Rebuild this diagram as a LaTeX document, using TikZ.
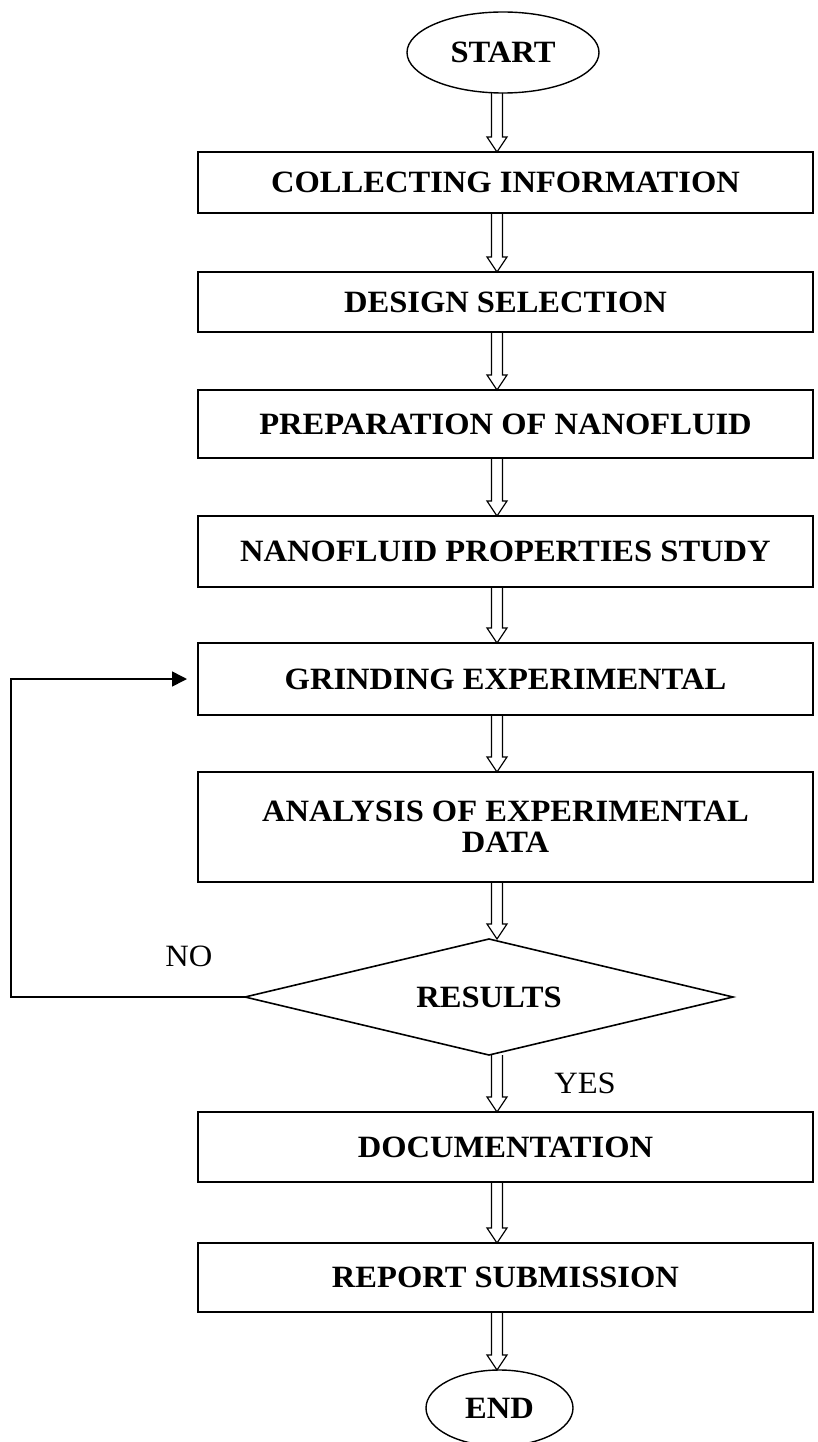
\documentclass[tikz,border=0pt]{standalone}
\usepackage{fontspec}
\setmainfont{Liberation Serif}[FakeStretch=1.05]
\usetikzlibrary{shapes.geometric,arrows.meta,calc}

\begin{document}
\begin{tikzpicture}[
    x=1pt, y=-1pt,
    every node/.style={font=\fontsize{31}{31}\selectfont},
    stepbox/.style={
        draw, line width=1.6pt, minimum width=615pt, inner sep=0pt, outer sep=0pt,
        align=center, font=\fontsize{31}{31}\selectfont\bfseries
      },
    terminal/.style={
        draw, ellipse, line width=1.4pt, inner sep=0pt, outer sep=0pt,
        font=\fontsize{31}{31}\selectfont\bfseries
      },
    decision/.style={
        draw, diamond, shape aspect=4.2, line width=1.6pt, minimum width=488pt,
        minimum height=116pt, inner sep=0pt, outer sep=0pt,
        font=\fontsize{31}{31}\selectfont\bfseries
      },
    hollow/.style={
        line width=1.2pt, line join=miter,
        to path={let \p1=(\tikztostart), \p2=(\tikztotarget) in
            (\x1-5.5pt,\y1) -- (\x1-5.5pt,\y2+15pt) -- (\x1-10pt,\y2+15pt) -- (\x2,\y2)
            -- (\x1+10pt,\y2+15pt) -- (\x1+5.5pt,\y2+15pt) -- (\x1+5.5pt,\y1)}
      },
    feedback/.style={line width=1.6pt, -{Triangle[length=15pt,width=15pt]}, shorten >=11pt}
  ]

  \useasboundingbox (0,0) rectangle (817,1442);

  % steps of the flow, top to bottom
  \node[terminal, minimum width=192pt, minimum height=81pt] (start) at (503,52.5) {START};
  \node[stepbox, minimum height=61pt] (info) at (505.5,182.5) {COLLECTING INFORMATION};
  \node[stepbox, minimum height=60pt] (design) at (505.5,302) {DESIGN SELECTION};
  \node[stepbox, minimum height=68pt] (prep) at (505.5,424) {PREPARATION OF NANOFLUID};
  \node[stepbox, minimum height=71pt] (props) at (505.5,551.5) {NANOFLUID PROPERTIES STUDY};
  \node[stepbox, minimum height=72pt] (grind) at (505.5,679) {GRINDING EXPERIMENTAL};
  \node[stepbox, minimum height=110pt] (analysis) at (505.5,827) {ANALYSIS OF EXPERIMENTAL\\DATA};
  \node[decision] (results) at (489,997) {RESULTS};
  \node[stepbox, minimum height=70pt] (doc) at (505.5,1147) {DOCUMENTATION};
  \node[stepbox, minimum height=69pt] (report) at (505.5,1277.5) {REPORT SUBMISSION};
  \node[terminal, minimum width=147pt, minimum height=76pt] (end) at (499.5,1408) {END};

  % hollow arrows between the steps
  \coordinate (ax) at (497,0);
  \draw[hollow] (start.south -| ax) to (info.north -| ax);
  \draw[hollow] (info.south -| ax) to (design.north -| ax);
  \draw[hollow] (design.south -| ax) to (prep.north -| ax);
  \draw[hollow] (prep.south -| ax) to (props.north -| ax);
  \draw[hollow] (props.south -| ax) to (grind.north -| ax);
  \draw[hollow] (grind.south -| ax) to (analysis.north -| ax);
  \draw[hollow] (analysis.south -| ax) to (results.north -| ax);
  \draw[hollow] (results.south -| ax) to (doc.north -| ax);
  \draw[hollow] (doc.south -| ax) to (report.north -| ax);
  \draw[hollow] (report.south -| ax) to (end.north -| ax);

  % loop back when the results fail
  \coordinate (loop) at (11,0);
  \draw[feedback] (results.west) -- (results.west -| loop) |- (grind.west);
  \node (no) at (189,956) {NO};
  \node (yes) at (585,1083) {YES};
\end{tikzpicture}
\end{document}
